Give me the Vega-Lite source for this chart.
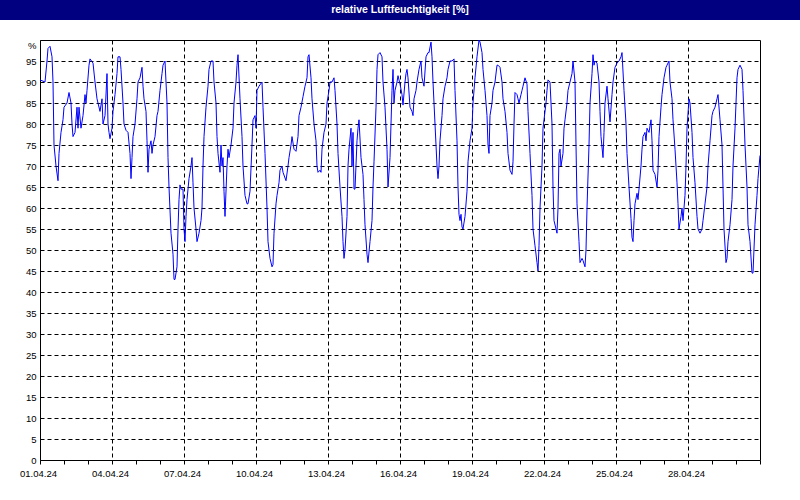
{
  "$schema": "https://vega.github.io/schema/vega-lite/v6.json",
  "background": "white",
  "padding": 0,
  "spacing": 17,
  "config": {"view": {"stroke": null}, "font": "Liberation Sans"},
  "datasets": {
    "rh": [
      {"t":"2024-04-01T00:00","h":90.5},{"t":"2024-04-01T05:00","h":90},{"t":"2024-04-01T07:00","h":95},{"t":"2024-04-01T08:00","h":98},{"t":"2024-04-01T10:00","h":98.5},{"t":"2024-04-01T12:00","h":96},{"t":"2024-04-01T13:00","h":90},{"t":"2024-04-01T14:00","h":75},{"t":"2024-04-01T16:00","h":70},{"t":"2024-04-01T18:00","h":66.5},{"t":"2024-04-01T19:00","h":73},{"t":"2024-04-01T21:00","h":78},{"t":"2024-04-01T23:00","h":81},
      {"t":"2024-04-02T00:00","h":84},{"t":"2024-04-02T03:00","h":85},{"t":"2024-04-02T05:00","h":87.5},{"t":"2024-04-02T07:00","h":85},{"t":"2024-04-02T08:00","h":80},{"t":"2024-04-02T09:00","h":77},{"t":"2024-04-02T11:00","h":78},{"t":"2024-04-02T13:00","h":84},{"t":"2024-04-02T14:00","h":79},{"t":"2024-04-02T15:00","h":84},{"t":"2024-04-02T17:00","h":79},{"t":"2024-04-02T19:00","h":82},{"t":"2024-04-02T21:00","h":87},{"t":"2024-04-02T22:00","h":85},{"t":"2024-04-02T23:00","h":88},
      {"t":"2024-04-03T01:00","h":94},{"t":"2024-04-03T02:00","h":95.5},{"t":"2024-04-03T05:00","h":94.5},{"t":"2024-04-03T07:00","h":90},{"t":"2024-04-03T09:00","h":86},{"t":"2024-04-03T10:00","h":85},{"t":"2024-04-03T12:00","h":83},{"t":"2024-04-03T14:00","h":86},{"t":"2024-04-03T15:00","h":80},{"t":"2024-04-03T17:00","h":82},{"t":"2024-04-03T19:00","h":92},{"t":"2024-04-03T20:00","h":80},{"t":"2024-04-03T21:00","h":78},{"t":"2024-04-03T22:00","h":76.5},
      {"t":"2024-04-04T00:00","h":79},{"t":"2024-04-04T01:00","h":83},{"t":"2024-04-04T03:00","h":87},{"t":"2024-04-04T05:00","h":92},{"t":"2024-04-04T06:00","h":96},{"t":"2024-04-04T08:00","h":96},{"t":"2024-04-04T09:00","h":93},{"t":"2024-04-04T11:00","h":85},{"t":"2024-04-04T12:00","h":80},{"t":"2024-04-04T14:00","h":78.5},{"t":"2024-04-04T16:00","h":78},{"t":"2024-04-04T18:00","h":73},{"t":"2024-04-04T19:00","h":67},{"t":"2024-04-04T20:00","h":72},{"t":"2024-04-04T21:00","h":77},{"t":"2024-04-04T23:00","h":80},
      {"t":"2024-04-05T01:00","h":86},{"t":"2024-04-05T02:00","h":90},{"t":"2024-04-05T04:00","h":91},{"t":"2024-04-05T06:00","h":93.5},{"t":"2024-04-05T07:00","h":89},{"t":"2024-04-05T08:00","h":86},{"t":"2024-04-05T10:00","h":83},{"t":"2024-04-05T11:00","h":76},{"t":"2024-04-05T12:00","h":68.5},{"t":"2024-04-05T13:00","h":74},{"t":"2024-04-05T15:00","h":76},{"t":"2024-04-05T16:00","h":73},{"t":"2024-04-05T17:00","h":75},{"t":"2024-04-05T19:00","h":77},{"t":"2024-04-05T21:00","h":82},{"t":"2024-04-05T22:00","h":83},
      {"t":"2024-04-06T00:00","h":88},{"t":"2024-04-06T02:00","h":92},{"t":"2024-04-06T03:00","h":94},{"t":"2024-04-06T05:00","h":95},{"t":"2024-04-06T07:00","h":85},{"t":"2024-04-06T08:00","h":72},{"t":"2024-04-06T09:00","h":65},{"t":"2024-04-06T11:00","h":54},{"t":"2024-04-06T13:00","h":49},{"t":"2024-04-06T14:00","h":43},{"t":"2024-04-06T15:00","h":43},{"t":"2024-04-06T17:00","h":46},{"t":"2024-04-06T18:00","h":55},{"t":"2024-04-06T19:00","h":62},{"t":"2024-04-06T20:00","h":65.5},{"t":"2024-04-06T21:00","h":64.5},{"t":"2024-04-06T23:00","h":64.5},
      {"t":"2024-04-07T00:00","h":55},{"t":"2024-04-07T01:00","h":52},{"t":"2024-04-07T02:00","h":58},{"t":"2024-04-07T03:00","h":62},{"t":"2024-04-07T05:00","h":67},{"t":"2024-04-07T07:00","h":70},{"t":"2024-04-07T08:00","h":72},{"t":"2024-04-07T09:00","h":66},{"t":"2024-04-07T10:00","h":60},{"t":"2024-04-07T12:00","h":55},{"t":"2024-04-07T13:00","h":52},{"t":"2024-04-07T15:00","h":54},{"t":"2024-04-07T17:00","h":57},{"t":"2024-04-07T18:00","h":60},{"t":"2024-04-07T19:00","h":70},{"t":"2024-04-07T20:00","h":77},{"t":"2024-04-07T22:00","h":84},
      {"t":"2024-04-08T00:00","h":89},{"t":"2024-04-08T01:00","h":93},{"t":"2024-04-08T03:00","h":95},{"t":"2024-04-08T05:00","h":95},{"t":"2024-04-08T06:00","h":90},{"t":"2024-04-08T08:00","h":85},{"t":"2024-04-08T09:00","h":77},{"t":"2024-04-08T10:00","h":73},{"t":"2024-04-08T12:00","h":68.5},{"t":"2024-04-08T13:00","h":75},{"t":"2024-04-08T14:00","h":70},{"t":"2024-04-08T15:00","h":72},{"t":"2024-04-08T16:00","h":64},{"t":"2024-04-08T17:00","h":58},{"t":"2024-04-08T19:00","h":70},{"t":"2024-04-08T20:00","h":74},{"t":"2024-04-08T21:00","h":72},{"t":"2024-04-08T23:00","h":75},
      {"t":"2024-04-09T01:00","h":79},{"t":"2024-04-09T02:00","h":85},{"t":"2024-04-09T04:00","h":90},{"t":"2024-04-09T05:00","h":94},{"t":"2024-04-09T06:00","h":96.5},{"t":"2024-04-09T08:00","h":86},{"t":"2024-04-09T10:00","h":77},{"t":"2024-04-09T11:00","h":70},{"t":"2024-04-09T13:00","h":63},{"t":"2024-04-09T15:00","h":61},{"t":"2024-04-09T16:00","h":61},{"t":"2024-04-09T18:00","h":64},{"t":"2024-04-09T20:00","h":75},{"t":"2024-04-09T21:00","h":81},{"t":"2024-04-09T23:00","h":82},
      {"t":"2024-04-10T00:00","h":79},{"t":"2024-04-10T01:00","h":88},{"t":"2024-04-10T03:00","h":89},{"t":"2024-04-10T06:00","h":90},{"t":"2024-04-10T07:00","h":84},{"t":"2024-04-10T09:00","h":73},{"t":"2024-04-10T11:00","h":60},{"t":"2024-04-10T12:00","h":52},{"t":"2024-04-10T14:00","h":48},{"t":"2024-04-10T16:00","h":46},{"t":"2024-04-10T17:00","h":46.5},{"t":"2024-04-10T18:00","h":54},{"t":"2024-04-10T20:00","h":61},{"t":"2024-04-10T21:00","h":63},{"t":"2024-04-10T23:00","h":66},
      {"t":"2024-04-11T00:00","h":69},{"t":"2024-04-11T02:00","h":70},{"t":"2024-04-11T03:00","h":68.5},{"t":"2024-04-11T06:00","h":66.5},{"t":"2024-04-11T08:00","h":70},{"t":"2024-04-11T09:00","h":72},{"t":"2024-04-11T11:00","h":75},{"t":"2024-04-11T12:00","h":77},{"t":"2024-04-11T14:00","h":74},{"t":"2024-04-11T16:00","h":73.5},{"t":"2024-04-11T18:00","h":77},{"t":"2024-04-11T19:00","h":82},{"t":"2024-04-11T21:00","h":84},{"t":"2024-04-11T23:00","h":86.5},
      {"t":"2024-04-12T01:00","h":89},{"t":"2024-04-12T03:00","h":91},{"t":"2024-04-12T04:00","h":96},{"t":"2024-04-12T05:00","h":96.5},{"t":"2024-04-12T07:00","h":91},{"t":"2024-04-12T08:00","h":86},{"t":"2024-04-12T10:00","h":80},{"t":"2024-04-12T12:00","h":76},{"t":"2024-04-12T13:00","h":70},{"t":"2024-04-12T14:00","h":68.5},{"t":"2024-04-12T16:00","h":69},{"t":"2024-04-12T17:00","h":68.5},{"t":"2024-04-12T18:00","h":74},{"t":"2024-04-12T20:00","h":78},{"t":"2024-04-12T22:00","h":80},{"t":"2024-04-12T23:00","h":85},
      {"t":"2024-04-13T01:00","h":88},{"t":"2024-04-13T02:00","h":90},{"t":"2024-04-13T04:00","h":90},{"t":"2024-04-13T06:00","h":91},{"t":"2024-04-13T07:00","h":88},{"t":"2024-04-13T09:00","h":80},{"t":"2024-04-13T10:00","h":73},{"t":"2024-04-13T12:00","h":65},{"t":"2024-04-13T14:00","h":58},{"t":"2024-04-13T15:00","h":52},{"t":"2024-04-13T16:00","h":48},{"t":"2024-04-13T17:00","h":50},{"t":"2024-04-13T19:00","h":58},{"t":"2024-04-13T20:00","h":70},{"t":"2024-04-13T21:00","h":74},{"t":"2024-04-13T23:00","h":79},
      {"t":"2024-04-14T00:00","h":70},{"t":"2024-04-14T01:00","h":78},{"t":"2024-04-14T02:00","h":64.5},{"t":"2024-04-14T03:00","h":64.5},{"t":"2024-04-14T05:00","h":76},{"t":"2024-04-14T06:00","h":79},{"t":"2024-04-14T07:00","h":81},{"t":"2024-04-14T09:00","h":72},{"t":"2024-04-14T11:00","h":68},{"t":"2024-04-14T12:00","h":62},{"t":"2024-04-14T13:00","h":56},{"t":"2024-04-14T15:00","h":49},{"t":"2024-04-14T16:00","h":47},{"t":"2024-04-14T18:00","h":52},{"t":"2024-04-14T20:00","h":57},{"t":"2024-04-14T21:00","h":65},{"t":"2024-04-14T22:00","h":71},
      {"t":"2024-04-15T00:00","h":84},{"t":"2024-04-15T01:00","h":93},{"t":"2024-04-15T02:00","h":96.5},{"t":"2024-04-15T04:00","h":97},{"t":"2024-04-15T06:00","h":96},{"t":"2024-04-15T07:00","h":90},{"t":"2024-04-15T09:00","h":84},{"t":"2024-04-15T11:00","h":74},{"t":"2024-04-15T12:00","h":65},{"t":"2024-04-15T14:00","h":72},{"t":"2024-04-15T15:00","h":80},{"t":"2024-04-15T16:00","h":88},{"t":"2024-04-15T17:00","h":93},{"t":"2024-04-15T18:00","h":85},{"t":"2024-04-15T19:00","h":88},{"t":"2024-04-15T21:00","h":90},{"t":"2024-04-15T22:00","h":91.5},
      {"t":"2024-04-16T00:00","h":89.5},{"t":"2024-04-16T02:00","h":87},{"t":"2024-04-16T03:00","h":84.5},{"t":"2024-04-16T05:00","h":90},{"t":"2024-04-16T06:00","h":92},{"t":"2024-04-16T07:00","h":93},{"t":"2024-04-16T08:00","h":91},{"t":"2024-04-16T10:00","h":84},{"t":"2024-04-16T12:00","h":83},{"t":"2024-04-16T13:00","h":82},{"t":"2024-04-16T14:00","h":86},{"t":"2024-04-16T16:00","h":88},{"t":"2024-04-16T17:00","h":90},{"t":"2024-04-16T19:00","h":93},{"t":"2024-04-16T21:00","h":95},{"t":"2024-04-16T22:00","h":91},
      {"t":"2024-04-17T00:00","h":89},{"t":"2024-04-17T02:00","h":96},{"t":"2024-04-17T04:00","h":97},{"t":"2024-04-17T05:00","h":97},{"t":"2024-04-17T07:00","h":99.5},{"t":"2024-04-17T08:00","h":96},{"t":"2024-04-17T09:00","h":90},{"t":"2024-04-17T11:00","h":80},{"t":"2024-04-17T12:00","h":75},{"t":"2024-04-17T13:00","h":70},{"t":"2024-04-17T14:00","h":67},{"t":"2024-04-17T15:00","h":70},{"t":"2024-04-17T16:00","h":76},{"t":"2024-04-17T18:00","h":82},{"t":"2024-04-17T19:00","h":86},{"t":"2024-04-17T21:00","h":89},{"t":"2024-04-17T23:00","h":91},
      {"t":"2024-04-18T00:00","h":93},{"t":"2024-04-18T02:00","h":95},{"t":"2024-04-18T04:00","h":95},{"t":"2024-04-18T06:00","h":95.5},{"t":"2024-04-18T07:00","h":88},{"t":"2024-04-18T09:00","h":76},{"t":"2024-04-18T10:00","h":65},{"t":"2024-04-18T11:00","h":58.5},{"t":"2024-04-18T12:00","h":57},{"t":"2024-04-18T13:00","h":58.5},{"t":"2024-04-18T14:00","h":55.5},{"t":"2024-04-18T15:00","h":55},{"t":"2024-04-18T17:00","h":58},{"t":"2024-04-18T19:00","h":64},{"t":"2024-04-18T20:00","h":71},{"t":"2024-04-18T22:00","h":76},
      {"t":"2024-04-19T00:00","h":79},{"t":"2024-04-19T01:00","h":85},{"t":"2024-04-19T03:00","h":91},{"t":"2024-04-19T05:00","h":96},{"t":"2024-04-19T07:00","h":100},{"t":"2024-04-19T08:00","h":99.5},{"t":"2024-04-19T10:00","h":97},{"t":"2024-04-19T11:00","h":93},{"t":"2024-04-19T13:00","h":88},{"t":"2024-04-19T15:00","h":82},{"t":"2024-04-19T16:00","h":75},{"t":"2024-04-19T17:00","h":73},{"t":"2024-04-19T18:00","h":82},{"t":"2024-04-19T20:00","h":85},{"t":"2024-04-19T21:00","h":88},{"t":"2024-04-19T23:00","h":90},
      {"t":"2024-04-20T01:00","h":94},{"t":"2024-04-20T02:00","h":94},{"t":"2024-04-20T04:00","h":93.5},{"t":"2024-04-20T06:00","h":90},{"t":"2024-04-20T07:00","h":86},{"t":"2024-04-20T09:00","h":83},{"t":"2024-04-20T11:00","h":78},{"t":"2024-04-20T12:00","h":73},{"t":"2024-04-20T14:00","h":69},{"t":"2024-04-20T16:00","h":68},{"t":"2024-04-20T17:00","h":71},{"t":"2024-04-20T18:00","h":80},{"t":"2024-04-20T19:00","h":87.5},{"t":"2024-04-20T21:00","h":87},{"t":"2024-04-20T22:00","h":86},{"t":"2024-04-20T23:00","h":85},
      {"t":"2024-04-21T01:00","h":87},{"t":"2024-04-21T02:00","h":88},{"t":"2024-04-21T03:00","h":89},{"t":"2024-04-21T05:00","h":91},{"t":"2024-04-21T07:00","h":89.5},{"t":"2024-04-21T08:00","h":83},{"t":"2024-04-21T10:00","h":73},{"t":"2024-04-21T12:00","h":63},{"t":"2024-04-21T13:00","h":55},{"t":"2024-04-21T15:00","h":51},{"t":"2024-04-21T17:00","h":47},{"t":"2024-04-21T18:00","h":45},{"t":"2024-04-21T19:00","h":51},{"t":"2024-04-21T20:00","h":60},{"t":"2024-04-21T22:00","h":70},{"t":"2024-04-21T23:00","h":79},
      {"t":"2024-04-22T00:00","h":81},{"t":"2024-04-22T02:00","h":85},{"t":"2024-04-22T03:00","h":88},{"t":"2024-04-22T04:00","h":90.5},{"t":"2024-04-22T06:00","h":90},{"t":"2024-04-22T08:00","h":80},{"t":"2024-04-22T09:00","h":65},{"t":"2024-04-22T10:00","h":57},{"t":"2024-04-22T12:00","h":55},{"t":"2024-04-22T13:00","h":54},{"t":"2024-04-22T14:00","h":60},{"t":"2024-04-22T15:00","h":73},{"t":"2024-04-22T16:00","h":74},{"t":"2024-04-22T17:00","h":70},{"t":"2024-04-22T19:00","h":73},{"t":"2024-04-22T20:00","h":79},{"t":"2024-04-22T21:00","h":81},{"t":"2024-04-22T23:00","h":85},
      {"t":"2024-04-23T00:00","h":88},{"t":"2024-04-23T02:00","h":90},{"t":"2024-04-23T04:00","h":92},{"t":"2024-04-23T05:00","h":95},{"t":"2024-04-23T07:00","h":90},{"t":"2024-04-23T08:00","h":75},{"t":"2024-04-23T09:00","h":61},{"t":"2024-04-23T11:00","h":52},{"t":"2024-04-23T12:00","h":47},{"t":"2024-04-23T14:00","h":48},{"t":"2024-04-23T15:00","h":47.5},{"t":"2024-04-23T17:00","h":46},{"t":"2024-04-23T18:00","h":50},{"t":"2024-04-23T19:00","h":60},{"t":"2024-04-23T21:00","h":75},{"t":"2024-04-23T22:00","h":85},
      {"t":"2024-04-24T00:00","h":92},{"t":"2024-04-24T01:00","h":96.5},{"t":"2024-04-24T02:00","h":94},{"t":"2024-04-24T03:00","h":95},{"t":"2024-04-24T05:00","h":94.5},{"t":"2024-04-24T07:00","h":90},{"t":"2024-04-24T08:00","h":83},{"t":"2024-04-24T09:00","h":77},{"t":"2024-04-24T11:00","h":72},{"t":"2024-04-24T12:00","h":78},{"t":"2024-04-24T13:00","h":85},{"t":"2024-04-24T15:00","h":89},{"t":"2024-04-24T16:00","h":86},{"t":"2024-04-24T18:00","h":80.5},{"t":"2024-04-24T20:00","h":87},{"t":"2024-04-24T21:00","h":90},{"t":"2024-04-24T23:00","h":93.5},
      {"t":"2024-04-25T01:00","h":94.5},{"t":"2024-04-25T03:00","h":95},{"t":"2024-04-25T05:00","h":96},{"t":"2024-04-25T06:00","h":97},{"t":"2024-04-25T08:00","h":88},{"t":"2024-04-25T10:00","h":80},{"t":"2024-04-25T11:00","h":73},{"t":"2024-04-25T13:00","h":65},{"t":"2024-04-25T15:00","h":57.5},{"t":"2024-04-25T16:00","h":53},{"t":"2024-04-25T17:00","h":52},{"t":"2024-04-25T18:00","h":57},{"t":"2024-04-25T19:00","h":61},{"t":"2024-04-25T21:00","h":63.5},{"t":"2024-04-25T22:00","h":62},{"t":"2024-04-25T23:00","h":64.5},
      {"t":"2024-04-26T01:00","h":70},{"t":"2024-04-26T02:00","h":74},{"t":"2024-04-26T03:00","h":77},{"t":"2024-04-26T05:00","h":78},{"t":"2024-04-26T06:00","h":76},{"t":"2024-04-26T07:00","h":79},{"t":"2024-04-26T09:00","h":78},{"t":"2024-04-26T11:00","h":81},{"t":"2024-04-26T12:00","h":76},{"t":"2024-04-26T13:00","h":69},{"t":"2024-04-26T15:00","h":68},{"t":"2024-04-26T17:00","h":65},{"t":"2024-04-26T18:00","h":69},{"t":"2024-04-26T19:00","h":77},{"t":"2024-04-26T21:00","h":84},{"t":"2024-04-26T22:00","h":87},
      {"t":"2024-04-27T00:00","h":91},{"t":"2024-04-27T02:00","h":93.5},{"t":"2024-04-27T03:00","h":94},{"t":"2024-04-27T05:00","h":95},{"t":"2024-04-27T06:00","h":90},{"t":"2024-04-27T08:00","h":86},{"t":"2024-04-27T09:00","h":81},{"t":"2024-04-27T11:00","h":74},{"t":"2024-04-27T13:00","h":66},{"t":"2024-04-27T14:00","h":61},{"t":"2024-04-27T15:00","h":55},{"t":"2024-04-27T17:00","h":58},{"t":"2024-04-27T18:00","h":60},{"t":"2024-04-27T19:00","h":57},{"t":"2024-04-27T21:00","h":63},{"t":"2024-04-27T22:00","h":70},{"t":"2024-04-27T23:00","h":79},
      {"t":"2024-04-28T01:00","h":86},{"t":"2024-04-28T02:00","h":85},{"t":"2024-04-28T04:00","h":78},{"t":"2024-04-28T05:00","h":72},{"t":"2024-04-28T07:00","h":66},{"t":"2024-04-28T09:00","h":58},{"t":"2024-04-28T10:00","h":55},{"t":"2024-04-28T12:00","h":54},{"t":"2024-04-28T14:00","h":55},{"t":"2024-04-28T15:00","h":57},{"t":"2024-04-28T17:00","h":61},{"t":"2024-04-28T19:00","h":65},{"t":"2024-04-28T20:00","h":70},{"t":"2024-04-28T22:00","h":76},
      {"t":"2024-04-29T00:00","h":82},{"t":"2024-04-29T01:00","h":83},{"t":"2024-04-29T03:00","h":84},{"t":"2024-04-29T05:00","h":86},{"t":"2024-04-29T06:00","h":87},{"t":"2024-04-29T08:00","h":81},{"t":"2024-04-29T10:00","h":75},{"t":"2024-04-29T11:00","h":65},{"t":"2024-04-29T12:00","h":55},{"t":"2024-04-29T14:00","h":47},{"t":"2024-04-29T15:00","h":48},{"t":"2024-04-29T16:00","h":52},{"t":"2024-04-29T18:00","h":56},{"t":"2024-04-29T20:00","h":62},{"t":"2024-04-29T21:00","h":70},{"t":"2024-04-29T23:00","h":79},
      {"t":"2024-04-30T01:00","h":91},{"t":"2024-04-30T02:00","h":93},{"t":"2024-04-30T04:00","h":94},{"t":"2024-04-30T06:00","h":93},{"t":"2024-04-30T07:00","h":88},{"t":"2024-04-30T09:00","h":75},{"t":"2024-04-30T11:00","h":65},{"t":"2024-04-30T12:00","h":56},{"t":"2024-04-30T14:00","h":52},{"t":"2024-04-30T16:00","h":44.5},{"t":"2024-04-30T17:00","h":44.5},{"t":"2024-04-30T19:00","h":56},{"t":"2024-04-30T21:00","h":63},{"t":"2024-04-30T22:00","h":67},
      {"t":"2024-05-01T00:00","h":72.5}
    ]
  },
  "vconcat": [
    {
      "width": 800,
      "height": 20,
      "view": {"fill": "#000080", "stroke": null},
      "data": {"values": [{"title": "relative Luftfeuchtigkeit [%]"}]},
      "mark": {"type": "text", "color": "white", "font": "Liberation Sans", "fontSize": 10.5, "fontWeight": "bold", "baseline": "middle", "align": "center"},
      "encoding": {"text": {"field": "title"}}
    },
    {
      "spacing": 0,
      "hconcat": [
        {
          "width": 19,
          "height": 420,
          "view": {"stroke": null},
          "data": {"values": [{"e": ""}]},
          "mark": {"type": "text", "opacity": 0},
          "encoding": {"text": {"field": "e"}}
        },
        {
          "width": 720,
          "height": 420,
          "view": {"stroke": "black", "strokeWidth": 1, "fill": "white"},
          "data": {"name": "rh"},
          "mark": {"type": "line", "color": "#0000ff", "strokeWidth": 1},
          "encoding": {
            "x": {
              "field": "t",
              "type": "temporal",
              "scale": {"domain": [{"year": 2024, "month": 4, "date": 1}, {"year": 2024, "month": 5, "date": 1}], "nice": false},
              "axis": {
                "title": null,
                "tickCount": {"interval": "day", "step": 1},
                "labelExpr": "(month(datum.value) == 3 && date(datum.value) % 3 == 1) ? timeFormat(datum.value, '%d.%m.%y') : ''",
                "labelOverlap": false,
                "labelFlush": false,
                "labelBound": false,
                "labelFont": "Liberation Sans",
                "labelFontSize": 9.5,
                "labelColor": "black",
                "labelPadding": 4,
                "labelOffset": -2,
                "domain": false,
                "ticks": true,
                "tickSize": 4,
                "tickColor": "black",
                "grid": true,
                "gridColor": "black",
                "gridDash": [4, 3],
                "gridOpacity": {"condition": {"test": "month(datum.value) == 3 && date(datum.value) % 3 == 1 && date(datum.value) > 1", "value": 1}, "value": 0}
              }
            },
            "y": {
              "field": "h",
              "type": "quantitative",
              "scale": {"domain": [0, 100], "nice": false},
              "axis": {
                "title": null,
                "values": [0, 5, 10, 15, 20, 25, 30, 35, 40, 45, 50, 55, 60, 65, 70, 75, 80, 85, 90, 95, 100],
                "labelExpr": "datum.value == 100 ? '%' : datum.label",
                "labelBaseline": {"condition": {"test": "datum.value == 100", "value": "top"}, "value": "middle"},
                "labelFont": "Liberation Sans",
                "labelFontSize": 9.5,
                "labelColor": "black",
                "labelPadding": 4,
                "labelOverlap": false,
                "labelBound": false,
                "ticks": false,
                "domain": false,
                "grid": true,
                "gridColor": "black",
                "gridDash": [4, 3]
              }
            }
          }
        }
      ]
    }
  ]
}
